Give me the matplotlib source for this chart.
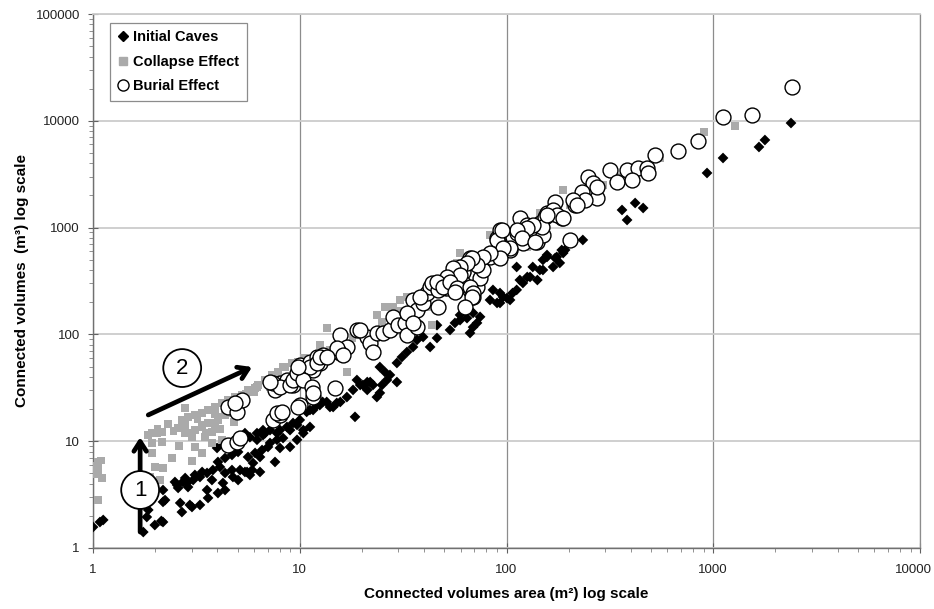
import matplotlib
matplotlib.use("Agg")
import matplotlib.pyplot as plt
from matplotlib.lines import Line2D
from matplotlib.ticker import LogLocator, FuncFormatter, NullFormatter

plt.rcParams["font.family"] = ["Liberation Sans", "DejaVu Sans"]

# Initial caves (area m2, volume m3)
initial_area = [
    1.00, 1.08, 1.12, 1.75, 1.85, 1.82, 1.99, 2.18, 2.14, 2.23, 2.18, 2.18,
    2.49, 2.55, 2.58, 2.64, 2.69, 2.72, 2.79, 2.85, 2.88, 2.94, 3.01, 3.05,
    3.11, 3.29, 3.29, 3.37, 3.56, 3.56, 3.60, 3.76, 3.80, 3.98, 4.02, 4.02,
    4.11, 4.25, 4.25, 4.35, 4.35, 4.35, 4.70, 4.70, 4.70, 4.75, 4.97, 5.03,
    5.03, 5.14, 5.32, 5.43, 5.43, 5.56, 5.62, 5.74, 5.74, 5.88, 5.94, 6.08,
    6.21, 6.21, 6.42, 6.42, 6.57, 6.64, 6.64, 6.79, 7.02, 7.18, 7.18, 7.59,
    7.76, 7.76, 8.02, 8.02, 8.30, 8.67, 8.97, 8.97, 9.28, 9.70, 9.70, 10.0,
    10.4, 10.4, 10.8, 11.2, 11.2, 11.6, 12.1, 12.5, 12.9, 13.5, 14.0, 14.5,
    15.1, 15.7, 16.9, 18.1, 18.5, 18.9, 19.6, 20.2, 21.2, 21.2, 21.9, 22.6,
    23.6, 24.4, 24.4, 25.0, 25.8, 26.4, 27.3, 29.5, 29.5, 31.2, 33.0, 35.3,
    36.9, 39.5, 42.7, 46.1, 46.1, 53.3, 56.3, 59.6, 59.6, 64.4, 66.6, 68.9,
    68.9, 72.0, 74.5, 83.2, 86.0, 90.0, 93.0, 93.0, 96.2, 100.5, 104, 107,
    112, 112, 116, 120, 126, 130, 134, 141, 145, 150, 150, 157, 157, 168,
    172, 175, 181, 185, 188, 192, 234, 362, 383, 419, 458, 933, 1115, 1664,
    1778, 2377,
]
initial_volume = [
    1.57, 1.75, 1.83, 1.41, 2.27, 1.95, 1.64, 1.75, 1.79, 2.81, 3.49, 2.70,
    4.15, 3.89, 3.65, 2.64, 2.17, 4.15, 4.52, 4.06, 3.72, 2.53, 2.42, 4.33,
    4.83, 2.53, 4.62, 5.15, 5.04, 3.49, 2.94, 4.33, 5.37, 8.64, 3.27, 6.39,
    5.73, 9.21, 4.06, 3.49, 6.96, 5.04, 8.83, 7.43, 5.37, 4.62, 9.62, 7.93,
    4.33, 5.37, 10.3, 5.15, 11.9, 5.15, 7.11, 10.9, 4.83, 5.37, 6.25, 7.76,
    11.9, 10.3, 7.11, 5.15, 8.27, 12.7, 11.4, 11.9, 8.83, 12.7, 9.62, 6.39,
    10.3, 11.9, 12.7, 8.64, 10.7, 13.6, 8.83, 12.7, 14.8, 14.2, 10.3, 15.8,
    11.9, 12.7, 18.8, 13.6, 19.6, 19.6, 21.8, 21.8, 23.3, 23.3, 20.9, 20.9,
    22.8, 23.3, 25.9, 30.2, 16.9, 37.4, 33.6, 33.6, 35.8, 30.2, 35.8, 33.6,
    25.9, 28.3, 49.5, 33.6, 44.5, 37.4, 41.7, 54.0, 35.8, 61.4, 68.4, 76.2,
    88.7, 94.6, 76.2, 92.5, 122, 110, 128, 152, 136, 142, 103, 117,
    159, 128, 146, 210, 261, 197, 244, 197, 224, 219, 210, 244,
    261, 428, 323, 303, 345, 345, 428, 323, 401, 401, 498, 531, 554, 428,
    519, 531, 467, 617, 578, 617, 766, 1462, 1178, 1700, 1526, 3246, 4485, 5687,
    6610, 9535,
]

# Collapse effect
collapse_area = [
    1.06, 1.06, 1.11, 1.06, 1.03, 1.93, 2.16, 1.93, 2.16, 1.93, 1.99, 2.18,
    1.89, 2.11, 2.58, 2.79, 2.88, 3.11, 3.37, 3.60, 3.89, 3.76, 4.02, 4.35,
    4.70, 3.11, 3.37, 3.76, 3.48, 4.21, 2.79, 1.85, 2.04, 2.69, 2.88, 3.11,
    3.37, 3.60, 3.89, 4.21, 4.50, 4.86, 5.26, 5.62, 6.08, 6.28, 6.79, 7.34,
    7.85, 8.48, 9.18, 9.81, 2.79, 3.37, 3.76, 3.01, 4.02, 13.5, 8.30, 7.18,
    6.21, 16.9, 23.6, 28.3, 30.5, 33.0, 38.2, 43.6, 59.6, 83.2, 57.6, 77.0,
    126, 141, 150, 12.5, 25.8, 41.3, 49.3, 188, 203, 145, 42.7, 293,
    553, 902, 1274, 10.5, 12.0, 14.0, 16.0, 18.0, 20.0, 25.0, 30.0, 35.0,
    45.0, 55.0, 65.0, 75.0, 90.0, 110, 130, 170, 220, 350, 450,
    1.09, 1.04, 2.05, 2.30, 2.45, 3.20, 3.90, 4.60, 5.00, 5.50, 6.00,
    2.40, 2.60, 3.00, 3.50, 4.10, 4.80,
]
collapse_volume = [
    6.39, 5.37, 4.52, 2.81, 5.90, 11.9, 12.2, 9.62, 9.84, 7.76, 5.73, 5.60,
    4.62, 4.33, 13.3, 14.2, 11.9, 12.7, 13.6, 14.8, 14.2, 12.2, 15.8, 17.6,
    18.4, 8.83, 7.76, 9.62, 10.9, 10.3, 20.5, 11.4, 11.9, 15.8, 16.9, 17.6,
    18.4, 19.6, 20.9, 22.8, 24.3, 25.9, 27.1, 30.2, 31.5, 33.6, 37.4, 41.7,
    44.5, 49.5, 54.0, 55.2, 11.9, 14.2, 14.8, 10.9, 16.9, 115, 49.5, 32.2,
    32.2, 44.5, 152, 181, 210, 224, 210, 122, 578, 853, 467, 323,
    658, 766, 1259, 79.6, 181, 244, 244, 2248, 1629, 1371, 181, 2506,
    4485, 7853, 8936, 60, 58, 72, 66, 92, 100, 130, 165, 200,
    280, 330, 400, 460, 600, 800, 900, 1200, 1800, 3000, 3500,
    6.6, 4.9, 13.0, 14.5, 12.4, 16.0, 18.0, 21.0, 22.0, 28.0, 29.0,
    7.0, 9.0, 6.5, 12.0, 13.0, 15.0,
]

# Burial effect
burial_area = [
    4.50, 4.97, 5.26, 4.86, 4.50, 4.97, 5.14, 7.43, 8.02, 7.76, 7.59, 8.02,
    8.67, 9.28, 10.0, 7.43, 10.0, 11.2, 12.1, 12.9, 12.5, 11.6, 10.0, 11.6,
    14.8, 15.7, 16.9, 15.7, 15.1, 18.9, 21.2, 21.9, 22.6, 8.20, 9.81, 8.02,
    7.18, 8.97, 9.28, 9.70, 10.4, 11.2, 12.1, 10.4, 11.5, 11.6, 9.81, 12.5,
    13.5, 16.2, 19.6, 23.6, 25.3, 27.3, 28.3, 29.9, 32.3, 33.0, 36.9, 35.3,
    36.9, 39.5, 41.3, 42.7, 43.6, 46.6, 46.6, 51.5, 53.3, 57.6, 61.6, 61.6,
    66.6, 66.6, 68.9, 72.0, 74.5, 77.0, 83.2, 90.0, 93.0, 96.2, 104, 107,
    112, 116, 120, 126, 134, 141, 145, 150, 154, 157, 248, 262, 274, 232,
    240, 214, 210, 172, 168, 185, 175, 149, 134, 126, 112, 119, 90.0, 104,
    137, 96.2, 93.0, 83.2, 77.0, 72.0, 68.1, 64.4, 59.6, 55.1, 59.6, 51.5,
    46.1, 49.3, 53.3, 57.6, 66.6, 68.9, 68.1, 38.2, 33.0, 35.3, 56.3, 63.0,
    203, 523, 676, 317, 383, 433, 478, 484, 342, 405, 274, 219, 157, 188,
    95.1, 2404, 1540, 1115, 844,
]
burial_volume = [
    20.9, 18.8, 24.3, 22.8, 9.21, 9.84, 10.7, 15.8, 17.6, 18.4, 30.2, 35.1,
    37.4, 33.6, 39.9, 35.1, 51.7, 55.2, 61.4, 64.1, 54.0, 46.4, 21.8, 25.9,
    31.5, 98.7, 76.2, 67.0, 74.6, 110, 94.6, 83.0, 68.4, 18.8, 20.9, 32.2,
    35.8, 33.6, 37.4, 43.5, 46.4, 49.5, 54.0, 37.4, 32.2, 28.3, 49.5, 61.4,
    61.4, 64.1, 110, 103, 103, 110, 146, 122, 128, 99.5, 117, 210,
    169, 197, 244, 278, 303, 261, 181, 272, 323, 376, 384, 303,
    519, 261, 224, 278, 337, 401, 531, 800, 950, 658, 617, 817,
    890, 1230, 717, 1057, 800, 733, 1104, 853, 1259, 1371, 2978, 2616, 1893, 2155,
    1812, 1629, 1812, 1738, 1462, 1230, 1312, 1014, 1057, 991, 950, 800, 766, 644,
    733, 644, 519, 578, 531, 446, 519, 467, 428, 418, 360, 345,
    310, 278, 310, 272, 278, 244, 224, 224, 159, 128, 249, 181,
    766, 4786, 5212, 3459, 3459, 3614, 3614, 3246, 2673, 2793, 2399, 1629, 1312, 1230,
    950, 20700, 11330, 10860, 6470,
]

series_names = ["Initial Caves", "Collapse Effect", "Burial Effect"]
x_max = 10000

fig = plt.figure(figsize=(9.34, 6.09), dpi=100)
ax = fig.add_axes([0.0996, 0.1002, 0.8854, 0.8768])

ax.scatter(initial_area, initial_volume, marker="D", s=30, c="black",
           edgecolors="none", zorder=3)
ax.scatter(collapse_area, collapse_volume, marker="s", s=32, c="#aaaaaa",
           edgecolors="none", zorder=4)
ax.scatter(burial_area, burial_volume, marker="o", s=115, facecolors="white",
           edgecolors="black", linewidths=1.0, zorder=5)

ax.set_xscale("log")
ax.set_yscale("log")
ax.set_xlim(1, x_max)
ax.set_ylim(1, 100000)

# last x label is drawn by hand a little to the left so it is not cut off
x_fmt = FuncFormatter(lambda v, p: "" if v >= x_max else "%d" % round(v))
y_fmt = FuncFormatter(lambda v, p: "%d" % round(v))
for axis, fmt in ((ax.xaxis, x_fmt), (ax.yaxis, y_fmt)):
    axis.set_major_locator(LogLocator(base=10, numticks=10))
    axis.set_minor_locator(LogLocator(base=10, subs=range(2, 10), numticks=10))
    axis.set_major_formatter(fmt)
    axis.set_minor_formatter(NullFormatter())

ax.tick_params(which="major", direction="inout", length=7, width=0.8,
               color="#606060", labelsize=9.5, labelcolor="#222222")
ax.tick_params(which="minor", direction="out", length=3, width=0.6,
               color="#808080")
ax.tick_params(axis="x", which="major", pad=8)
ax.tick_params(axis="y", which="major", pad=6)

ax.annotate("%d" % x_max, xy=(x_max, 0), xycoords=("data", "axes fraction"),
            xytext=(-5, -11.5), textcoords="offset points", ha="center",
            va="top", fontsize=9.5, color="#222222", annotation_clip=False)

ax.xaxis.grid(True, which="major", color="#8c8c8c", linewidth=0.9)
ax.yaxis.grid(True, which="major", color="#cccccc", linewidth=1.3)
ax.set_axisbelow(True)

for side in ("left", "bottom"):
    ax.spines[side].set_color("#707070")
    ax.spines[side].set_linewidth(1.0)
ax.spines["top"].set_color("#cccccc")
ax.spines["top"].set_linewidth(1.3)
ax.spines["right"].set_color("#8c8c8c")
ax.spines["right"].set_linewidth(0.9)

ax.set_xlabel("Connected volumes area (m\u00b2) log scale", fontsize=11,
              fontweight="bold", labelpad=8)
ax.set_ylabel("Connected volumes  (m\u00b3) log scale", fontsize=11,
              fontweight="bold", labelpad=5)

# step arrows with circled numbers
arrow_kw = dict(arrowstyle="->, head_length=0.7, head_width=0.45",
                color="black", lw=3.4, shrinkA=0, shrinkB=0)
ax.annotate("", xy=(1.69, 10.9), xytext=(1.69, 1.41),
            arrowprops=arrow_kw, zorder=6)
ax.annotate("", xy=(5.88, 49.5), xytext=(1.85, 17.6),
            arrowprops=arrow_kw, zorder=6)
circle_box = dict(boxstyle="circle, pad=0.38", fc="white", ec="black", lw=1.3)
ax.text(1.69, 3.49, "1", fontsize=16, ha="center", va="center",
        bbox=circle_box, zorder=7)
ax.text(2.70, 48.4, "2", fontsize=16, ha="center", va="center",
        bbox=circle_box, zorder=7)

handles = [
    Line2D([], [], marker="D", linestyle="none", color="black", markersize=5),
    Line2D([], [], marker="s", linestyle="none", color="#aaaaaa",
           markersize=6),
    Line2D([], [], marker="o", linestyle="none", markerfacecolor="white",
           markeredgecolor="black", markersize=8, markeredgewidth=1.0),
]
leg = ax.legend(handles, series_names,
                loc="upper left", bbox_to_anchor=(0.0206, 0.983),
                borderaxespad=0, fancybox=False, frameon=True,
                prop={"weight": "bold", "size": 10.5}, handlelength=0.8,
                handletextpad=0.3, labelspacing=0.72, borderpad=0.5)
leg.get_frame().set_edgecolor("#707070")
leg.get_frame().set_linewidth(0.9)

fig.savefig("out.png", dpi=100)
plt.close(fig)
